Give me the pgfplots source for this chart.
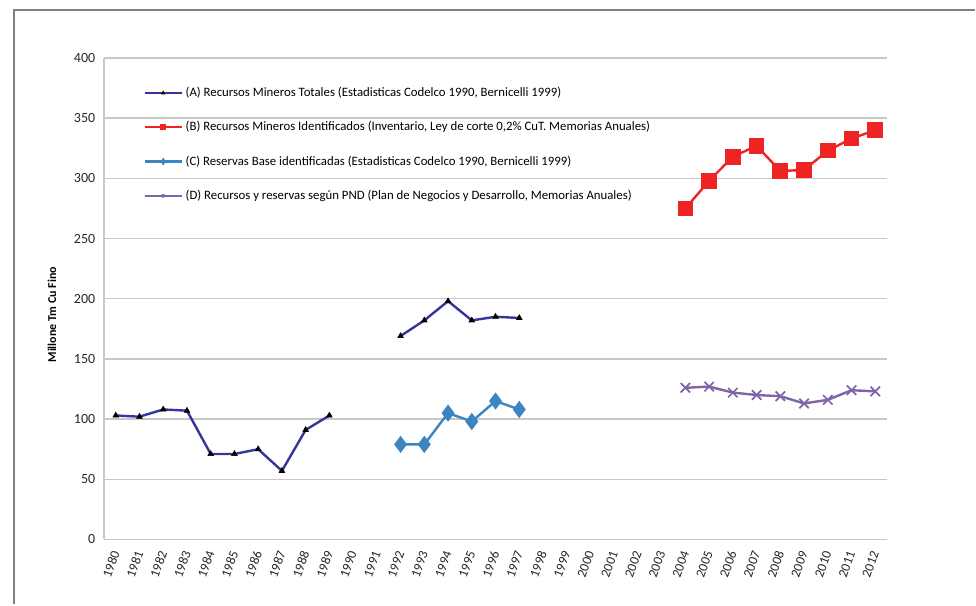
\documentclass[border=0pt]{standalone}
\usepackage{fontspec}
\setmainfont{Carlito}
\usepackage{pgfplots}
\pgfplotsset{compat=1.18}
\definecolor{cA}{HTML}{35359A}
\definecolor{cB}{HTML}{EE2424}
\definecolor{cC}{HTML}{3D85C0}
\definecolor{cD}{HTML}{8064A8}
\definecolor{gridc}{HTML}{C8C8C8}
\begin{document}
\begin{tikzpicture}
\path (0pt,0pt) rectangle (732pt,453.75pt);
\draw[color=gray, line width=1.4pt] (10.5pt,0pt) -- (10.5pt,446.25pt) -- (732pt,446.25pt);
\begin{axis}[
  at={(78pt,48.75pt)}, anchor=south west,
  scale only axis, width=588pt, height=361.5pt,
  xmin=-0.5, xmax=32.5, ymin=0, ymax=400,
  axis x line*=bottom, axis y line*=left,
  axis line style={gridc, line width=1.1pt},
  ymajorgrids, grid style={gridc, line width=1.1pt},
  ytick={0,50,...,400},
  xtick={0,...,32},
  xticklabels={1980,1981,1982,1983,1984,1985,1986,1987,1988,1989,1990,1991,1992,1993,1994,1995,1996,1997,1998,1999,2000,2001,2002,2003,2004,2005,2006,2007,2008,2009,2010,2011,2012},
  major tick length=0pt,
  /pgf/number format/assume math mode=true,
  ticklabel style={font=\fontsize{10.5}{12}\selectfont, text=black!85},
  yticklabel style={xshift=-3pt},
  xticklabel style={rotate=70, anchor=east, inner sep=0pt, font=\fontsize{10}{11}\selectfont},
  xticklabel shift=9pt,
  legend style={at={(rel axis cs:0.05,0.945)}, anchor=north west, draw=none, fill=none,
     font=\fontsize{9.6}{10}\selectfont, row sep=13.2pt, cells={anchor=west}, inner sep=0pt},
  legend image code/.code={\draw[mark repeat=2,mark phase=2,#1] plot coordinates {(0pt,0pt) (14pt,0pt) (28pt,0pt)};},
  legend image post style={mark size=1.4pt},
  clip=false,
]
\addplot[cA, line width=1.8pt, mark=triangle*, mark size=2.4pt, mark options={black, fill=black, line width=0.5pt}]
  coordinates {(0,103) (1,102) (2,108) (3,107) (4,71) (5,71) (6,75) (7,57) (8,91) (9,103)};
\addlegendentry{(A) Recursos Mineros Totales (Estadisticas Codelco 1990, Bernicelli 1999)}
\addplot[cB, line width=1.8pt, mark=square*, mark size=5pt, mark options={cB, fill=cB}]
  coordinates {(24,275) (25,298) (26,318) (27,327) (28,306) (29,307) (30,323) (31,333) (32,340)};
\addlegendentry{(B) Recursos Mineros Identificados (Inventario, Ley de corte 0,2\% CuT. Memorias Anuales)}
\addplot[cC, line width=1.8pt, mark=diamond*, mark size=5pt, mark options={cC, fill=cC}]
  coordinates {(12,79) (13,79) (14,105) (15,98) (16,115) (17,108)};
\addlegendentry{(C) Reservas Base identificadas (Estadisticas Codelco 1990, Bernicelli 1999)}
\addplot[cD, line width=1.8pt, mark=x, mark size=5pt, mark options={cD, line width=1.3pt}]
  coordinates {(24,126) (25,127) (26,122) (27,120) (28,119) (29,113) (30,116) (31,124) (32,123)};
\addlegendentry{(D) Recursos y reservas según PND (Plan de Negocios y Desarrollo, Memorias Anuales)}
\addplot[cA, line width=1.8pt, mark=triangle*, mark size=2.4pt, mark options={black, fill=black, line width=0.5pt}, forget plot]
  coordinates {(12,169) (13,182) (14,198) (15,182) (16,185) (17,184)};
\end{axis}
\node[rotate=90, font=\bfseries\fontsize{9}{10}\selectfont] at (39pt,217.5pt) {Millone Tm Cu Fino};
\end{tikzpicture}
\end{document}
